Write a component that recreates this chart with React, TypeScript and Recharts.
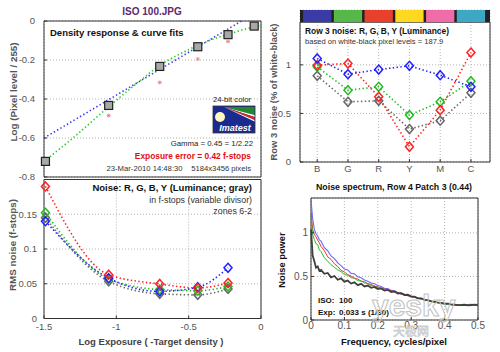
import React from "react";
import { ComposedChart, Line, XAxis, YAxis, CartesianGrid, ReferenceArea } from "recharts";

const FONT = "'Liberation Sans', Arial, Helvetica, sans-serif";

// ---- Panel 1: density response ----
const densityX = [-1.49, -1.053, -0.7, -0.437, -0.228, -0.047];
const densityY = [-0.72, -0.433, -0.233, -0.132, -0.07, -0.026];
const pinkX = [-1.053, -0.7, -0.437, -0.228];
const pinkY = [-0.485, -0.315, -0.195, -0.105];
const gammaFitX = [-1.5, -0.135];
const gammaFitY = [-0.6, 0];
const curveFitX = [-1.5, -1.3, -1.053, -0.85, -0.7, -0.55, -0.437, -0.3, -0.228, -0.1, 0];
const curveFitY = [-0.72, -0.6, -0.44, -0.315, -0.228, -0.165, -0.125, -0.085, -0.068, -0.04, -0.025];

// ---- Panel 2: row 3 noise ----
const rowCats = ["B", "G", "R", "Y", "M", "C"];
const rowIdx = [1, 2, 3, 4, 5, 6];
const rowBlue = [1.066, 0.904, 0.952, 0.99, 0.894, 0.774];
const rowRed = [0.997, 1.014, 0.671, 0.157, 0.534, 1.127];
const rowGreen = [0.98, 0.74, 0.774, 0.483, 0.62, 0.832];
const rowGray = [0.887, 0.62, 0.63, 0.339, 0.425, 0.712];
const barColors = ["#3b3ba8", "#55b848", "#e8402c", "#ffd820", "#f06ca8", "#3ea8c4"];

// ---- Panel 3: RMS noise ----
const rmsX = [-1.49, -1.053, -0.7, -0.437, -0.228];
const rmsRed = [0.19, 0.063, 0.0497, 0.044, 0.051];
const rmsGreen = [0.152, 0.057, 0.0416, 0.04, 0.046];
const rmsBlue = [0.14, 0.058, 0.039, 0.045, 0.073];
const rmsGray = [0.145, 0.0535, 0.0355, 0.034, 0.0426];

// ---- Panel 4: noise spectrum ----
const nsFreq = [0, 0.005, 0.01, 0.015, 0.02, 0.025, 0.03, 0.04, 0.05, 0.06, 0.07, 0.08, 0.09, 0.1, 0.11, 0.12, 0.13, 0.14, 0.15, 0.16, 0.17, 0.18, 0.19, 0.2, 0.21, 0.22, 0.23, 0.24, 0.25, 0.26, 0.27, 0.28, 0.29, 0.3, 0.31, 0.32, 0.33, 0.34, 0.35, 0.36, 0.37, 0.38, 0.39, 0.4, 0.41, 0.42, 0.43, 0.44, 0.45, 0.46, 0.47, 0.48, 0.49, 0.5];
const nsBlue = [1.38, 1.16, 1.04, 0.99, 0.965, 0.92, 0.905, 0.83, 0.795, 0.735, 0.705, 0.655, 0.625, 0.585, 0.575, 0.535, 0.53, 0.495, 0.485, 0.46, 0.445, 0.425, 0.415, 0.395, 0.385, 0.365, 0.36, 0.34, 0.335, 0.315, 0.31, 0.295, 0.29, 0.27, 0.27, 0.25, 0.25, 0.23, 0.23, 0.215, 0.215, 0.2, 0.2, 0.185, 0.185, 0.175, 0.18, 0.17, 0.178, 0.168, 0.176, 0.18, 0.172, 0.182];
const nsRed = [1.23, 1.04, 0.98, 0.955, 0.915, 0.885, 0.845, 0.795, 0.725, 0.695, 0.645, 0.615, 0.57, 0.55, 0.52, 0.505, 0.48, 0.47, 0.445, 0.44, 0.415, 0.41, 0.385, 0.383, 0.36, 0.358, 0.34, 0.338, 0.318, 0.313, 0.296, 0.293, 0.277, 0.272, 0.258, 0.252, 0.238, 0.233, 0.222, 0.217, 0.203, 0.202, 0.188, 0.187, 0.178, 0.177, 0.168, 0.172, 0.168, 0.176, 0.168, 0.177, 0.168, 0.176];
const nsGreen = [1.19, 0.98, 0.925, 0.875, 0.865, 0.805, 0.785, 0.715, 0.675, 0.635, 0.605, 0.575, 0.555, 0.52, 0.515, 0.485, 0.48, 0.45, 0.45, 0.425, 0.42, 0.395, 0.393, 0.37, 0.368, 0.345, 0.343, 0.325, 0.323, 0.305, 0.303, 0.286, 0.283, 0.266, 0.264, 0.247, 0.243, 0.228, 0.222, 0.213, 0.203, 0.201, 0.188, 0.186, 0.178, 0.176, 0.168, 0.172, 0.174, 0.168, 0.171, 0.176, 0.168, 0.174];
const nsGray = [1.04, 0.74, 0.675, 0.6, 0.615, 0.565, 0.575, 0.53, 0.54, 0.49, 0.505, 0.462, 0.478, 0.44, 0.452, 0.418, 0.432, 0.4, 0.415, 0.385, 0.395, 0.37, 0.38, 0.355, 0.362, 0.338, 0.346, 0.322, 0.328, 0.304, 0.308, 0.287, 0.29, 0.268, 0.267, 0.249, 0.249, 0.232, 0.229, 0.214, 0.212, 0.199, 0.197, 0.189, 0.187, 0.179, 0.177, 0.17, 0.172, 0.175, 0.168, 0.172, 0.176, 0.17];

const pts = (xs: number[], ys: number[]) => xs.map((x, i) => ({ x, y: ys[i] }));

const tickStyle = { fontSize: 9.5, fill: "#555", fontFamily: FONT };
const gridProps = { stroke: "#b4b4b4", strokeDasharray: "1 2" };
const frameColor = "#333";

const renderSquare = (p: any) => (
  <rect key={`sq${p.index}`} x={p.cx - 4} y={p.cy - 4} width={8} height={8} fill="#a8a8a8" stroke="#222" strokeWidth={1.2} />
);
const renderStar = (p: any) => (
  <g key={`st${p.index}`} stroke="#f09090" strokeWidth={1}>
    <line x1={p.cx - 2} y1={p.cy} x2={p.cx + 2} y2={p.cy} />
    <line x1={p.cx} y1={p.cy - 2} x2={p.cx} y2={p.cy + 2} />
    <line x1={p.cx - 1.5} y1={p.cy - 1.5} x2={p.cx + 1.5} y2={p.cy + 1.5} />
    <line x1={p.cx - 1.5} y1={p.cy + 1.5} x2={p.cx + 1.5} y2={p.cy - 1.5} />
  </g>
);
const diamond = (color: string, tag: string) => (p: any) => (
  <path
    key={`${tag}${p.index}`}
    d={`M${p.cx},${p.cy - 4.5}L${p.cx + 4},${p.cy}L${p.cx},${p.cy + 4.5}L${p.cx - 4},${p.cy}Z`}
    fill="none"
    stroke={color}
    strokeWidth={1.5}
  />
);

const C_RED = "#ff2020";
const C_GREEN = "#22bb22";
const C_BLUE = "#2020ff";
const C_GRAY = "#666666";
const dotted = { strokeWidth: 1.6, strokeDasharray: "1.4 2.4" };

function DensityPanel() {
  return (
    <div style={{ position: "absolute", left: 0, top: 0 }}>
      <ComposedChart width={500} height={352} margin={{ top: 21, right: 239, bottom: 175, left: 0 }}>
        <CartesianGrid {...gridProps} />
        <XAxis type="number" dataKey="x" domain={[-1.5, 0]} ticks={[-1.5, -1, -0.5, 0]} height={0} tick={false} axisLine={false} tickSize={-3} tickLine={{ stroke: frameColor }} />
        <YAxis type="number" domain={[-0.8, 0]} ticks={[-0.8, -0.6, -0.4, -0.2, 0]} width={44} axisLine={false} tickSize={-3} tickMargin={12} tick={tickStyle} tickLine={{ stroke: frameColor }} />
        <YAxis yAxisId="r" orientation="right" type="number" domain={[-0.8, 0]} ticks={[-0.8, -0.6, -0.4, -0.2, 0]} allowDataOverflow width={0} axisLine={false} tick={false} tickSize={-3} tickLine={{ stroke: frameColor }} />
        <ReferenceArea x1={-1.5} x2={0} y1={-0.8} y2={0} fill="none" stroke={frameColor} strokeWidth={1} />
        <Line data={pts(gammaFitX, gammaFitY)} dataKey="y" stroke="#3a3af0" {...dotted} dot={false} isAnimationActive={false} />
        <Line data={pts(curveFitX, curveFitY)} type="monotone" dataKey="y" stroke="#2ec82e" {...dotted} dot={false} isAnimationActive={false} />
        <Line data={pts(pinkX, pinkY)} dataKey="y" stroke="none" dot={renderStar} isAnimationActive={false} />
        <Line data={pts(densityX, densityY)} dataKey="y" stroke="none" dot={renderSquare} isAnimationActive={false} />
      </ComposedChart>
    </div>
  );
}

function RmsPanel() {
  const series = [
    { name: "gray", ys: rmsGray, c: C_GRAY },
    { name: "green", ys: rmsGreen, c: C_GREEN },
    { name: "blue", ys: rmsBlue, c: C_BLUE },
    { name: "red", ys: rmsRed, c: C_RED },
  ];
  return (
    <div style={{ position: "absolute", left: 0, top: 0 }}>
      <ComposedChart width={500} height={352} margin={{ top: 179.5, right: 239, bottom: 13.5, left: 0 }}>
        <CartesianGrid {...gridProps} />
        <XAxis type="number" dataKey="x" domain={[-1.5, 0]} ticks={[-1.5, -1, -0.5, 0]} height={20} axisLine={false} tickSize={-3} tickMargin={8} tick={tickStyle} tickLine={{ stroke: frameColor }} />
        <YAxis type="number" domain={[0, 0.2]} ticks={[0, 0.05, 0.1, 0.15]} width={44} axisLine={false} tickSize={-3} tickMargin={10} tick={tickStyle} tickLine={{ stroke: frameColor }} />
        <YAxis yAxisId="r" orientation="right" type="number" domain={[0, 0.2]} ticks={[0, 0.05, 0.1, 0.15]} allowDataOverflow width={0} axisLine={false} tick={false} tickSize={-3} tickLine={{ stroke: frameColor }} />
        <ReferenceArea x1={-1.5} x2={0} y1={0} y2={0.2} fill="none" stroke={frameColor} strokeWidth={1} />
        {series.map((s) => (
          <Line key={s.name} data={pts(rmsX, s.ys)} type="monotone" dataKey="y" stroke={s.c} {...dotted} dot={diamond(s.c, "r" + s.name)} isAnimationActive={false} />
        ))}
      </ComposedChart>
    </div>
  );
}

function RowNoisePanel() {
  const series = [
    { name: "gray", ys: rowGray, c: C_GRAY },
    { name: "green", ys: rowGreen, c: C_GREEN },
    { name: "red", ys: rowRed, c: C_RED },
    { name: "blue", ys: rowBlue, c: C_BLUE },
  ];
  return (
    <div style={{ position: "absolute", left: 0, top: 0 }}>
      <ComposedChart width={500} height={352} margin={{ top: 10, right: 10, bottom: 170, left: 270 }}>
        <CartesianGrid {...gridProps} />
        <XAxis type="number" dataKey="x" domain={[0.44, 6.62]} ticks={rowIdx} tickFormatter={(v: number) => rowCats[v - 1]} height={20} axisLine={false} tickSize={-3} tickMargin={6} tick={tickStyle} tickLine={{ stroke: frameColor }} />
        <YAxis type="number" domain={[0, 1.565]} ticks={[0, 0.5, 1]} width={30} axisLine={false} tickSize={-3} tickMargin={12} tick={tickStyle} tickLine={{ stroke: frameColor }} />
        <YAxis yAxisId="r" orientation="right" type="number" domain={[0, 1.565]} ticks={[0, 0.5, 1]} allowDataOverflow width={0} axisLine={false} tick={false} tickSize={-3} tickLine={{ stroke: frameColor }} />
        <ReferenceArea x1={0.44} x2={6.62} y1={0} y2={1.44} fill="none" stroke={frameColor} strokeWidth={1} />
        <ReferenceArea x1={0.44} x2={6.62} y1={1.44} y2={1.565} fill="#222" fillOpacity={1} stroke="none" />
        {rowIdx.map((i) => (
          <ReferenceArea key={`cb${i}`} x1={i - 0.46} x2={i + 0.46} y1={1.44} y2={1.565} fill={barColors[i - 1]} fillOpacity={1} stroke="none" />
        ))}
        {series.map((s) => (
          <Line key={s.name} data={pts(rowIdx, s.ys)} dataKey="y" stroke={s.c} {...dotted} dot={diamond(s.c, "t" + s.name)} isAnimationActive={false} />
        ))}
      </ComposedChart>
    </div>
  );
}

function SpectrumPanel() {
  const series = [
    { name: "blue", ys: nsBlue, c: "#6a6aff", w: 1.1 },
    { name: "red", ys: nsRed, c: "#ff2a2a", w: 1 },
    { name: "green", ys: nsGreen, c: "#22c022", w: 1 },
    { name: "gray", ys: nsGray, c: "#404040", w: 1.8 },
  ];
  const xt = [0, 0.1, 0.2, 0.3, 0.4, 0.5];
  return (
    <div style={{ position: "absolute", left: 0, top: 0 }}>
      <ComposedChart width={500} height={352} margin={{ top: 198, right: 22, bottom: 12, left: 281 }}>
        <CartesianGrid {...gridProps} />
        <XAxis type="number" dataKey="x" domain={[0, 0.5]} ticks={xt} height={20} axisLine={false} tickSize={-3} tickMargin={5} tick={{ ...tickStyle, fontSize: 10 }} tickLine={{ stroke: frameColor }} />
        <XAxis xAxisId="t" orientation="top" type="number" domain={[0, 0.5]} ticks={xt} allowDataOverflow height={0} axisLine={false} tick={false} tickSize={-3} tickLine={{ stroke: frameColor }} />
        <YAxis type="number" domain={[0, 1.4]} ticks={[0, 0.5, 1]} width={30} axisLine={false} tickSize={-3} tickMargin={6} tick={{ ...tickStyle, fontSize: 10 }} tickLine={{ stroke: frameColor }} />
        <YAxis yAxisId="r" orientation="right" type="number" domain={[0, 1.4]} ticks={[0, 0.5, 1]} allowDataOverflow width={0} axisLine={false} tick={false} tickSize={-3} tickLine={{ stroke: frameColor }} />
        <ReferenceArea x1={0} x2={0.5} y1={0} y2={1.4} fill="none" stroke={frameColor} strokeWidth={1} />
        {series.map((s) => (
          <Line key={s.name} data={pts(nsFreq, s.ys)} dataKey="y" stroke={s.c} strokeWidth={s.w} dot={false} isAnimationActive={false} />
        ))}
      </ComposedChart>
    </div>
  );
}

function Annotations() {
  const t = { fontFamily: FONT };
  return (
    <svg width={500} height={352} style={{ position: "absolute", left: 0, top: 0, pointerEvents: "none" }}>
      <g style={t}>
        <text x={152} y={15} textAnchor="middle" fontSize={10} fontWeight="bold" fill="#5c2a6e">ISO 100.JPG</text>
        {/* panel 1 */}
        <text x={50} y={35.5} fontSize={9.5} fontWeight="bold" fill="#111">Density response &amp; curve fits</text>
        <text x={251} y={101.5} textAnchor="end" fontSize={7.7} fill="#222">24-bit color</text>
        <rect x={213} y={106} width={42} height={27} fill="#1b2a8f" stroke="#333" strokeWidth={0.8} />
        <polygon points="224,107 254.5,107 254.5,115" fill="#1f8a2a" />
        <polygon points="224,107 254.5,115 254.5,117" fill="#ffffff" />
        <polygon points="224,107 254.5,117 254.5,120" fill="#d42a1e" />
        <polygon points="224,107 254.5,120 254.5,121.5" fill="#ffffff" />
        <circle cx={220} cy={117} r={5} fill="#fff6c0" />
        <text x={235} y={131} textAnchor="middle" fontSize={9} fontWeight="bold" fontStyle="italic" fill="#ffffff">Imatest</text>
        <text x={253} y={146} textAnchor="end" fontSize={7.8} fill="#222">Gamma = 0.45 = 1/2.22</text>
        <text x={251} y={158.5} textAnchor="end" fontSize={8.4} fontWeight="bold" fill="#e01010">Exposure error = 0.42 f-stops</text>
        <text x={106.5} y={170.7} fontSize={7.7} fill="#333">23-Mar-2010 14:48:30</text>
        <text x={251} y={170.7} textAnchor="end" fontSize={7.7} fill="#333">5184x3456 pixels</text>
        <text transform="translate(13,92) rotate(-90)" textAnchor="middle" dominantBaseline="central" fontSize={9.8} fontWeight="bold" fill="#555">Log (Pixel level / 255)</text>
        {/* panel 3 */}
        <text x={252} y={191} textAnchor="end" fontSize={9.5} fontWeight="bold" fill="#111">Noise: R, G, B, Y (Luminance; gray)</text>
        <text x={252} y={202.5} textAnchor="end" fontSize={8.8} fill="#333">in f-stops (variable divisor)</text>
        <text x={252} y={214} textAnchor="end" fontSize={8.8} fill="#333">zones 6-2</text>
        <text transform="translate(12,245) rotate(-90)" textAnchor="middle" dominantBaseline="central" fontSize={9.8} fontWeight="bold" fill="#555">RMS noise (f-stops)</text>
        <text x={151} y={345} textAnchor="middle" fontSize={9.5} fontWeight="bold" fill="#444">Log Exposure ( -Target density )</text>
        {/* panel 2 */}
        <text x={305} y={33.5} fontSize={8.4} fontWeight="bold" fill="#111">Row 3 noise: R, G, B, Y (Luminance)</text>
        <text x={305} y={44} fontSize={7.6} fill="#333">based on white-black pixel levels = 187.9</text>
        <text transform="translate(273,92) rotate(-90)" textAnchor="middle" dominantBaseline="central" fontSize={9.4} fontWeight="bold" fill="#555">Row 3 noise (% of white-black)</text>
        {/* panel 4 */}
        <text x={394} y={189.5} textAnchor="middle" fontSize={8.8} fontWeight="bold" fill="#111">Noise spectrum, Row 4 Patch 3 (0.44)</text>
        <text transform="translate(282,260) rotate(-90)" textAnchor="middle" dominantBaseline="central" fontSize={9.3} fontWeight="bold" fill="#111">Noise power</text>
        <text x={394} y={345} textAnchor="middle" fontSize={9.5} fontWeight="bold" fill="#111">Frequency, cycles/pixel</text>
        <text x={318} y={303} fontSize={8} fontWeight="bold" fill="#111">ISO:</text>
        <text x={339} y={303} fontSize={8} fontWeight="bold" fill="#111">100</text>
        <text x={318} y={314.5} fontSize={8} fontWeight="bold" fill="#111">Exp:</text>
        <text x={339} y={314.5} fontSize={8} fontWeight="bold" fill="#111">0.033 s  (1/30)</text>
        {/* watermark */}
        <text x={372} y={316} fontSize={30} fontWeight="bold" fill="none" stroke="#c4c4c4" strokeWidth={1.1}>yesky</text>
        <text x={393} y={336} fontSize={12} fill="none" stroke="#cfcfcf" strokeWidth={0.8} fontFamily="'Noto Sans CJK SC', sans-serif">天极网</text>
      </g>
    </svg>
  );
}

export default function App() {
  return (
    <div style={{ position: "absolute", left: 0, top: 0, width: 500, height: 352, background: "#fff", overflow: "hidden" }}>
      <DensityPanel />
      <RmsPanel />
      <RowNoisePanel />
      <SpectrumPanel />
      <Annotations />
    </div>
  );
}
